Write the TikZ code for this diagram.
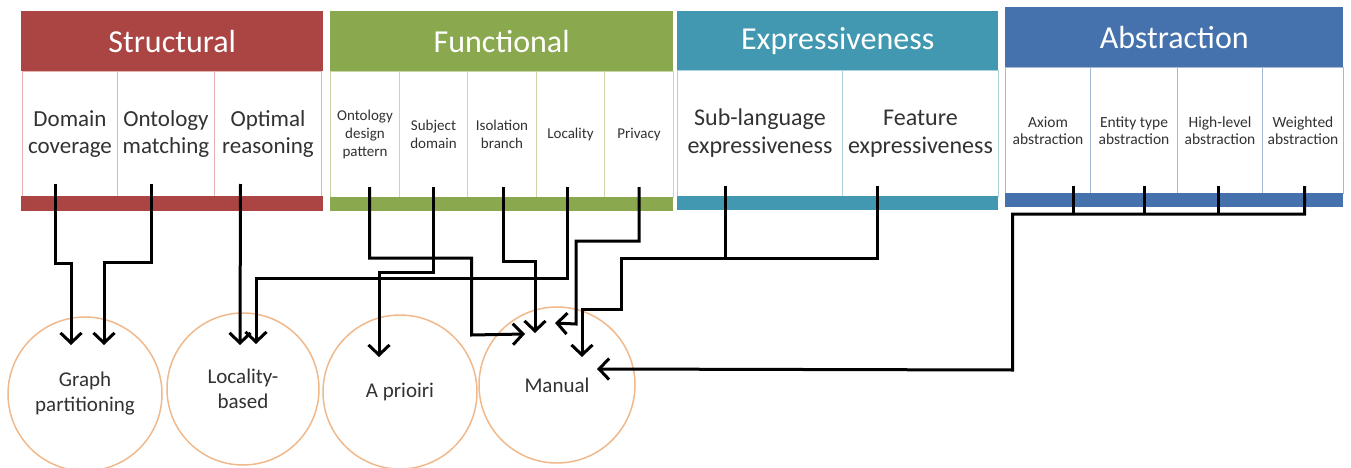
\documentclass[tikz,border=0pt]{standalone}
\usepackage{fontspec}
\setmainfont{Carlito}
\usepackage{xcolor}
\usetikzlibrary{arrows.meta, positioning}
\definecolor{strred}{RGB}{171,69,67}
\definecolor{strpale}{RGB}{228,178,177}
\definecolor{fungreen}{RGB}{138,168,78}
\definecolor{funpale}{RGB}{200,215,165}
\definecolor{expteal}{RGB}{65,152,176}
\definecolor{exppale}{RGB}{170,210,222}
\definecolor{absblue}{RGB}{69,114,172}
\definecolor{abspale}{RGB}{165,185,215}
\definecolor{peach}{RGB}{240,185,140}
\definecolor{txtgray}{RGB}{50,50,50}

\begin{document}
\begin{tikzpicture}[x=1pt,y=-1pt,
          head/.style={fill=#1,text=white,anchor=north west,inner sep=0pt,
                       minimum height=60pt,font=\fontsize{32}{36}\selectfont},
          cell/.style={draw=#1,line width=1pt,fill=white,anchor=north west,
                       inner sep=0pt,align=center,text=txtgray,minimum height=126pt},
          bar/.style={fill=#1,anchor=north west,inner sep=0pt,minimum height=14pt},
          circ/.style={circle,draw=peach,line width=1.5pt,align=center,text=txtgray,
                       inner sep=0pt,minimum size=154pt,font=\fontsize{21}{25}\selectfont},
          conn/.style={line width=3pt,-{Straight Barb[length=10pt,width=21pt]}},
          link/.style={line width=3pt}]
        \useasboundingbox (0,0) rectangle (1351,468);
        % Structural
        \node[head=strred,minimum width=302pt](structural) at (21,11) {Structural};
        \node[cell=strpale,minimum width=95pt,minimum height=125pt,
              font=\fontsize{23}{27}\selectfont](dcov) at (22,71) {Domain\\coverage};
        \node[cell=strpale,minimum width=97pt,minimum height=125pt,
              font=\fontsize{23}{27}\selectfont](omatch) at (117,71) {Ontology\\matching};
        \node[cell=strpale,minimum width=107pt,minimum height=125pt,
              font=\fontsize{23}{27}\selectfont](optreas) at (214,71) {Optimal\\reasoning};
        \node[bar=strred,minimum width=302pt,minimum height=15pt](strbar) at (21,196) {};
        % Functional
        \node[head=fungreen,minimum width=343pt](functional) at (330,11) {Functional};
        \node[cell=funpale,minimum width=69pt,font=\fontsize{15}{18}\selectfont](odp)
          at (330,71) {Ontology\\design\\pattern};
        \node[cell=funpale,minimum width=68pt,font=\fontsize{15}{18}\selectfont](subj)
          at (399,71) {Subject\\domain};
        \node[cell=funpale,minimum width=69pt,font=\fontsize{15}{18}\selectfont](iso)
          at (467,71) {Isolation\\branch};
        \node[cell=funpale,minimum width=68pt,font=\fontsize{15}{18}\selectfont](loc)
          at (536,71) {Locality};
        \node[cell=funpale,minimum width=69pt,font=\fontsize{15}{18}\selectfont](priv)
          at (604,71) {Privacy};
        \node[bar=fungreen,minimum width=343pt](funbar) at (330,197) {};
        % Expressiveness
        \node[head=expteal,minimum width=321pt,minimum height=59pt](expressiveness)
          at (677,11) {Expressiveness};
        \node[cell=exppale,minimum width=165pt,font=\fontsize{24}{28}\selectfont](sub)
          at (677,70) {Sub-language\\expressiveness};
        \node[cell=exppale,minimum width=156pt,font=\fontsize{24}{28}\selectfont](feat)
          at (842,70) {Feature\\expressiveness};
        \node[bar=expteal,minimum width=321pt](expbar) at (677,196) {};
        % Abstraction
        \node[head=absblue,minimum width=338pt](abstraction) at (1005,7) {Abstraction};
        \node[cell=abspale,minimum width=85pt,font=\fontsize{15.5}{17}\selectfont](axiom)
          at (1005,67) {Axiom\\abstraction};
        \node[cell=abspale,minimum width=87pt,font=\fontsize{15.5}{17}\selectfont](ent)
          at (1090,67) {Entity type\\abstraction};
        \node[cell=abspale,minimum width=85pt,font=\fontsize{15.5}{17}\selectfont](high)
          at (1177,67) {High-level\\abstraction};
        \node[cell=abspale,minimum width=81pt,font=\fontsize{15.5}{17}\selectfont](weight)
          at (1262,67) {Weighted\\abstraction};
        \node[bar=absblue,minimum width=338pt](absbar) at (1005,193) {};
        % methods
        \node[circ](graph) at (85,394) {Graph\\partitioning};
        \node[circ,minimum size=152pt](locality) at (243,389) {Locality-\\based};
        \node[circ](apriori) at (400,392) {A prioiri};
        \node[circ,minimum size=156pt](manual) at (557,385) {Manual};
        % connectors
        \draw[conn]([xshift=-14.5pt,yshift=13pt]dcov.south)--++(0,79)
          -|([xshift=-14pt,yshift=49pt]graph.center);
        \draw[conn]([xshift=-14.5pt,yshift=13pt]omatch.south)--++(0,78)
          -|([xshift=19pt,yshift=49pt]graph.center);
        \draw[conn]([xshift=-27.5pt,yshift=13pt]optreas.south)
          --([xshift=-3pt,yshift=44pt]locality.center);
        \draw[conn]([xshift=-3pt,yshift=11pt]loc.south)--++(0,91)
          -|([xshift=13pt,yshift=45pt]locality.center);
        \draw[conn]([yshift=11pt]subj.south)--++(0,85)
          -|([xshift=-21pt,yshift=35pt]apriori.center);
        \draw[conn]([xshift=4.5pt,yshift=11pt]odp.south)--++(0,71)-|++(102,77)
          --([xshift=-32pt,yshift=51pt]manual.center);
        \draw[conn]([xshift=1.5pt,yshift=11pt]iso.south)--++(0,74)
          -|([xshift=-22pt,yshift=52pt]manual.center);
        \draw[conn]([yshift=11pt]priv.south)--++(0,54)-|++(-63,83)
          --([xshift=-2pt,yshift=62pt]manual.center);
        \draw[link]([xshift=-34.5pt,yshift=11pt]sub.south)--++(0,72);
        \draw[conn]([xshift=-43pt,yshift=11pt]feat.south)--++(0,72)-|++(-256,51)
          -|([xshift=25pt,yshift=28pt]manual.center);
        \draw[link]([xshift=25.5pt,yshift=8pt]axiom.south)--++(0,28);
        \draw[link]([xshift=10.5pt,yshift=8pt]ent.south)--++(0,28);
        \draw[link]([xshift=-1.5pt,yshift=8pt]high.south)--++(0,28);
        \draw[conn]([xshift=1.5pt,yshift=8pt]weight.south)--++(0,28)-|++(-292,156)
          --([xshift=40pt,yshift=16pt]manual.center);
      \end{tikzpicture}
\end{document}
